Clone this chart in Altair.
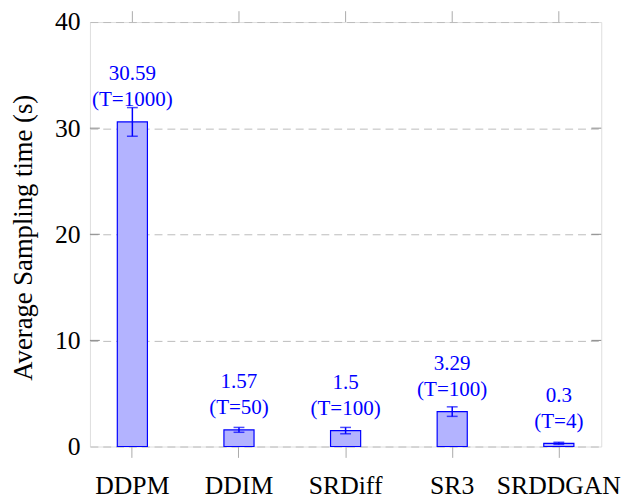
import altair as alt
import pandas as pd

methods = ["DDPM", "DDIM", "SRDiff", "SR3", "SRDDGAN"]
times = [30.59, 1.57, 1.5, 3.29, 0.3]
steps = [1000, 50, 100, 100, 4]
errors = [1.35, 0.23, 0.3, 0.45, 0.1]
y_ticks = [0, 10, 20, 30, 40]

df = pd.DataFrame({"method": methods, "time": times, "T": steps, "err": errors})
tick_df = pd.DataFrame({"v": y_ticks[1:-1]})

FONT = "Liberation Serif"
BLUE = "#0000ff"

xscale = alt.Scale(domain=methods, paddingInner=0.7176, paddingOuter=0.2568)
yscale = alt.Scale(domain=[0, 40], nice=False)

x_enc = alt.X("method:N", scale=xscale, sort=methods,
              axis=alt.Axis(title=None, labelAngle=0, labelFont=FONT, labelFontSize=26,
                            labelColor="black", tickSize=11, tickColor="#aaaaaa",
                            tickWidth=1, labelPadding=16, domain=False, grid=False))

base = alt.Chart(df).transform_calculate(
    lo="datum.time - datum.err",
    hi="datum.time + datum.err",
    label="'' + datum.time + '\\n(T=' + datum.T + ')'",
)

bars = base.mark_bar(fill="#b3b3ff", stroke=BLUE, strokeWidth=1.2).encode(
    x=x_enc,
    y=alt.Y("time:Q", scale=yscale,
            axis=alt.Axis(title="Average Sampling time (s)", values=y_ticks,
                          titleFont=FONT, titleFontSize=27, titleFontWeight="normal",
                          titleColor="black", titleX=-53, titleY=218,
                          labelFont=FONT, labelFontSize=26, labelColor="black",
                          labelPadding=10, ticks=False, domain=False,
                          grid=True, gridColor="#bbbbbb", gridDash=[8, 5], gridWidth=1)),
)

err_rule = base.mark_rule(color=BLUE, strokeWidth=1.5).encode(
    x="method:N", y="lo:Q", y2="hi:Q")
err_caps_hi = base.mark_tick(color=BLUE, size=11, thickness=1.5).encode(
    x="method:N", y="hi:Q")
err_caps_lo = base.mark_tick(color=BLUE, size=11, thickness=1.5).encode(
    x="method:N", y="lo:Q")

labels = base.mark_text(font=FONT, fontSize=21.3, color=BLUE, lineBreak="\n",
                        baseline="alphabetic", align="center", lineHeight=26, dy=-42).encode(
    x="method:N", y="time:Q", text="label:N")

top_ticks = base.mark_rule(color="#aaaaaa", strokeWidth=1).encode(
    x="method:N", y=alt.value(-11), y2=alt.value(0))

left_ticks = alt.Chart(tick_df).mark_rule(color="#888888", strokeWidth=1).encode(
    y=alt.Y("v:Q"), x=alt.value(0), x2=alt.value(10))
right_ticks = alt.Chart(tick_df).mark_rule(color="#888888", strokeWidth=1).encode(
    y=alt.Y("v:Q"), x=alt.value(508), x2=alt.value(518))

chart = alt.layer(bars, err_rule, err_caps_hi, err_caps_lo, labels, top_ticks,
                  left_ticks, right_ticks).properties(
    width=518, height=430,
    autosize=alt.AutoSizeParams(type="none"),
    padding={"left": 83, "top": 11, "right": 20, "bottom": 55},
).configure_view(stroke="#222222", strokeWidth=1).configure(background="white")

chart.save("out.html", embed_options={"renderer": "svg", "actions": False})
